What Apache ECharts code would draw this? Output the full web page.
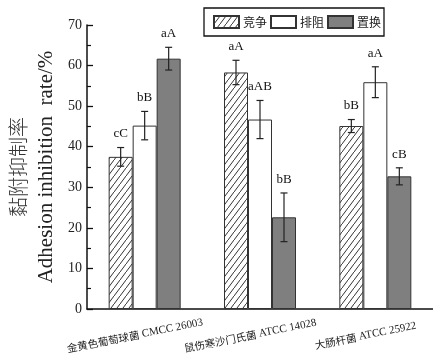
<!DOCTYPE html>
<html>
<head>
<meta charset="utf-8">
<script src="https://cdn.jsdelivr.net/npm/echarts@6/dist/echarts.min.js"></script>
<style>
  html, body { margin: 0; padding: 0; background: #fff; }
  #chart { width: 433px; height: 362px; }
</style>
</head>
<body>
<div id="chart"></div>
<script>
// Strains tested
var categories = ['金黄色葡萄球菌 CMCC 26003', '鼠伤寒沙门氏菌 ATCC 14028', '大肠杆菌 ATCC 25922'];
// Treatment modes
var seriesNames = ['竞争', '排阻', '置换'];

// Adhesion inhibition rate (%) per mode, with standard deviations and significance letters
var competition = [37.5, 58.3, 45.1];
var competitionErr = [2.3, 3.0, 1.6];
var competitionSig = ['cC', 'aA', 'bB'];

var exclusion = [45.2, 46.7, 55.9];
var exclusionErr = [3.5, 4.7, 3.8];
var exclusionSig = ['bB', 'aAB', 'aA'];

var displacement = [61.7, 22.6, 32.7];
var displacementErr = [2.8, 6.0, 2.1];
var displacementSig = ['aA', 'bB', 'cB'];

var yTicks = [0, 10, 20, 30, 40, 50, 60, 70];

var BAR_W = 24;
var SERIF = '"Liberation Serif", "DejaVu Serif", serif';
var CJK = '"Noto Sans CJK SC", sans-serif';

// Diagonal hatch fill
function hatchPattern() {
  var w = 6, h = 8;
  var c = document.createElement('canvas');
  c.width = w; c.height = h;
  var ctx = c.getContext('2d');
  ctx.fillStyle = '#fff';
  ctx.fillRect(0, 0, w, h);
  ctx.strokeStyle = '#333';
  ctx.lineWidth = 1;
  ctx.beginPath();
  ctx.moveTo(-w, 2 * h);
  ctx.lineTo(2 * w, -h);
  ctx.stroke();
  return c;
}

var fills = [
  { image: hatchPattern(), repeat: 'repeat' },
  '#ffffff',
  '#7f7f7f'
];
var values = [competition, exclusion, displacement];
var errs = [competitionErr, exclusionErr, displacementErr];
var sigs = [competitionSig, exclusionSig, displacementSig];

var series = [];
values.forEach(function (vals, s) {
  series.push({
    name: seriesNames[s],
    type: 'bar',
    barWidth: BAR_W,
    barGap: '0%',
    data: vals,
    itemStyle: { color: fills[s], borderColor: '#333', borderWidth: 1 },
    z: 2
  });
});

values.forEach(function (vals, s) {
  series.push({
    type: 'custom',
    silent: true,
    z: 5,
    data: vals.map(function (v, i) { return [i, v, errs[s][i]]; }),
    renderItem: function (params, api) {
      var i = api.value(0), v = api.value(1), e = api.value(2);
      var off = (s - 1) * BAR_W;
      var top = api.coord([i, v + e]);
      var bot = api.coord([i, v - e]);
      var x = top[0] + off;
      var cap = 3.5;
      var st = { stroke: '#222', lineWidth: 1.2 };
      return {
        type: 'group',
        children: [
          { type: 'line', shape: { x1: x, y1: top[1], x2: x, y2: bot[1] }, style: st },
          { type: 'line', shape: { x1: x - cap, y1: top[1], x2: x + cap, y2: top[1] }, style: st },
          { type: 'line', shape: { x1: x - cap, y1: bot[1], x2: x + cap, y2: bot[1] }, style: st },
          {
            type: 'text',
            style: {
              x: x, y: top[1] - 7,
              text: sigs[s][params.dataIndex],
              align: 'center', verticalAlign: 'bottom',
              font: '13px ' + SERIF, fill: '#111'
            }
          }
        ]
      };
    }
  });
});

var chart = echarts.init(document.getElementById('chart'), null, { renderer: 'canvas' });
chart.setOption({
  animation: false,
  backgroundColor: '#fff',
  grid: { left: 87, top: 25, width: 354, bottom: 53, containLabel: false },
  legend: {
    data: seriesNames,
    left: 204,
    top: 8,
    orient: 'horizontal',
    icon: 'rect',
    itemWidth: 25,
    itemHeight: 12,
    itemGap: 3,
    padding: [7, 3, 7, 9],
    borderColor: '#111',
    borderWidth: 1.3,
    backgroundColor: '#fff',
    textStyle: { fontFamily: CJK, fontSize: 12, color: '#222', padding: [0, 0, 0, -1] }
  },
  xAxis: {
    type: 'category',
    data: categories,
    axisLine: { lineStyle: { color: '#111', width: 1.5 } },
    axisTick: { show: false },
    axisLabel: {
      interval: 0,
      rotate: 11,
      align: 'center',
      verticalAlign: 'top',
      margin: 19,
      padding: [0, 22, 0, 0],
      formatter: function (v) {
        var k = v.indexOf(' ');
        return '{cn|' + v.slice(0, k) + '}{en|' + v.slice(k) + '}';
      },
      rich: {
        cn: { fontFamily: CJK, fontSize: 10.5, color: '#222' },
        en: { fontFamily: SERIF, fontSize: 11, color: '#222' }
      }
    }
  },
  yAxis: {
    type: 'value',
    min: yTicks[0],
    max: yTicks[yTicks.length - 1],
    interval: 10,
    name: '{cn|黏附抑制率}\n{en|Adhesion inhibition  rate/%}',
    nameLocation: 'middle',
    nameGap: 27,
    nameTextStyle: {
      rich: {
        cn: { fontFamily: CJK, fontSize: 20, fontWeight: 300, color: '#333', lineHeight: 28 },
        en: { fontFamily: SERIF, fontSize: 21, color: '#222', lineHeight: 28 }
      }
    },
    axisLine: { show: true, lineStyle: { color: '#111', width: 1.5 } },
    axisTick: { show: true, inside: true, length: 6, lineStyle: { color: '#111', width: 1.3 } },
    minorTick: { show: true, splitNumber: 2, length: 4, lineStyle: { color: '#111', width: 1.2 } },
    splitLine: { show: false },
    axisLabel: { fontFamily: SERIF, fontSize: 14, color: '#222', margin: 5 }
  },
  series: series
});
</script>
</body>
</html>
